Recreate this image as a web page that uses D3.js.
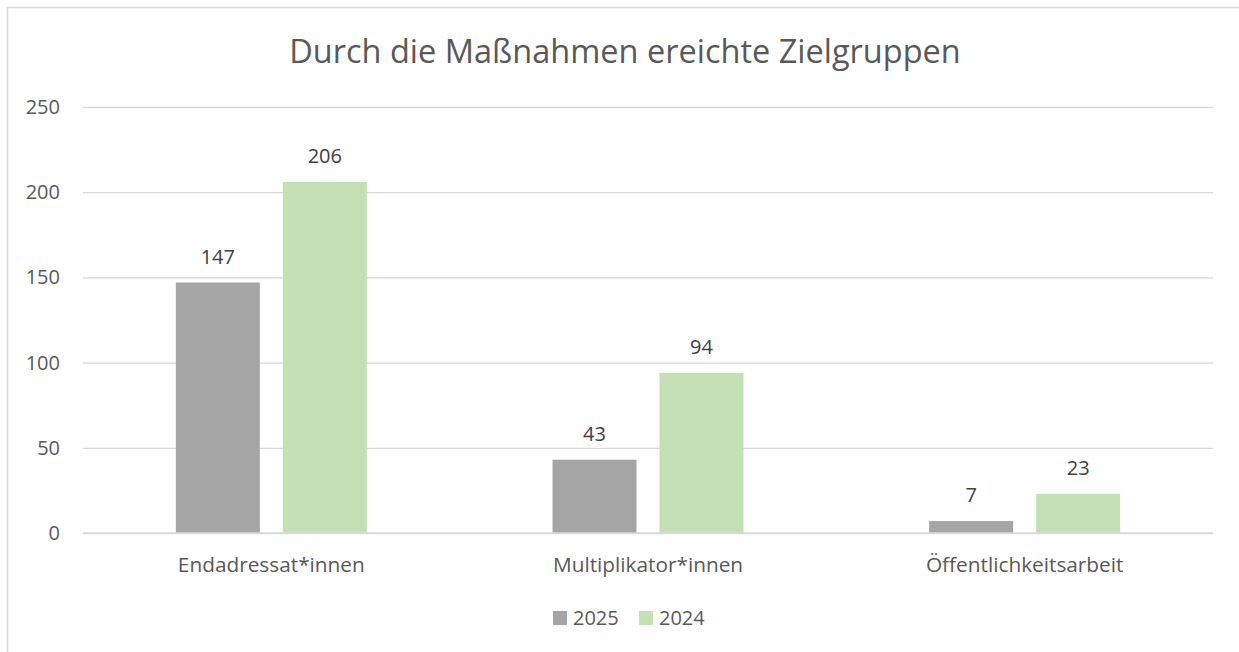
<!DOCTYPE html>
<html><head><meta charset="utf-8">
<script src="https://cdn.jsdelivr.net/npm/d3@7"></script>
<style>body{margin:0;background:#fff}svg{display:block}text{font-family:"Open Sans",sans-serif}</style>
</head><body>
<script>
const categories = ["Endadressat*innen", "Multiplikator*innen", "Öffentlichkeitsarbeit"];
const seriesNames = ["2025", "2024"];
const values2025 = [147, 43, 7];
const values2024 = [206, 94, 23];
const yTicks = [0, 50, 100, 150, 200, 250];
const colors = ["#a5a5a5", "#c5e0b4"];
const title = "Durch die Maßnahmen ereichte Zielgruppen";

(function () {
const W = 1239, H = 652;
const FONT = "'Open Sans', sans-serif";
const svg = d3.select("body").append("svg").attr("width", W).attr("height", H);
svg.append("rect").attr("x", 7.5).attr("y", 7.5).attr("width", W + 10).attr("height", H + 10)
  .attr("fill", "#fff").attr("stroke", "#d9d9d9").attr("stroke-width", 1.5);

const pLeft = 83, pRight = 1213, pTop = 107, pBottom = 533;
const x = d3.scaleBand().domain(categories).range([pLeft, pRight]).paddingInner(0).paddingOuter(0);
const y = d3.scaleLinear().domain([0, 250]).range([pBottom, pTop]);
const barW = x.bandwidth() * 84 / 376.7;
const gap = 23;
const x1 = d3.scaleBand().domain(seriesNames).range([0, barW * 2 + gap]).paddingInner(gap / (barW + gap)).paddingOuter(0);

const yAxis = d3.axisLeft(y).tickValues(yTicks).tickSize(-(pRight - pLeft)).tickPadding(23);
const gy = svg.append("g").attr("transform", `translate(${pLeft},0)`).call(yAxis);
gy.select(".domain").remove();
gy.selectAll(".tick line").attr("stroke", "#d9d9d9").attr("stroke-width", 1.3);
gy.selectAll(".tick text").attr("fill", "#595959").style("font-size", "20px").style("font-family", FONT);

const data = categories.map((c, i) => ({cat: c, vals: [values2025[i], values2024[i]]}));
const groups = svg.append("g").selectAll("g").data(data).join("g")
  .attr("transform", d => `translate(${x(d.cat) + (x.bandwidth() - (barW * 2 + gap)) / 2},0)`);
groups.selectAll("rect").data(d => d.vals.map((v, j) => ({v, s: seriesNames[j], j}))).join("rect")
  .attr("x", d => x1(d.s)).attr("width", x1.bandwidth())
  .attr("y", d => y(d.v)).attr("height", d => y(0) - y(d.v))
  .attr("fill", d => colors[d.j]);
groups.selectAll("text").data(d => d.vals.map((v, j) => ({v, s: seriesNames[j], j}))).join("text")
  .attr("x", d => x1(d.s) + x1.bandwidth() / 2).attr("y", d => y(d.v) - 19)
  .attr("text-anchor", "middle").attr("fill", "#404040").style("font-size", "20px")
  .text(d => d.v);

const xAxis = d3.axisBottom(x).tickSize(0).tickPadding(24);
const gx = svg.append("g").attr("transform", `translate(0,${pBottom})`).call(xAxis);
gx.select(".domain").remove();
gx.selectAll(".tick text").attr("fill", "#595959").style("font-size", "20.8px").style("font-family", FONT);
svg.append("line").attr("x1", pLeft).attr("x2", pRight).attr("y1", y(0)).attr("y2", y(0))
  .attr("stroke", "#d9d9d9").attr("stroke-width", 1.3);

svg.append("text").attr("x", 625).attr("y", 63).attr("text-anchor", "middle")
  .attr("fill", "#595959").style("font-size", "32.5px").text(title);

const legendItems = [{n: seriesNames[0], c: colors[0], x: 553}, {n: seriesNames[1], c: colors[1], x: 639}];
const lg = svg.append("g");
legendItems.forEach(it => {
  lg.append("rect").attr("x", it.x).attr("y", 611).attr("width", 14).attr("height", 14).attr("fill", it.c);
  lg.append("text").attr("x", it.x + 20).attr("y", 625).attr("fill", "#595959").style("font-size", "20px").text(it.n);
});
})();
</script>
</body></html>
